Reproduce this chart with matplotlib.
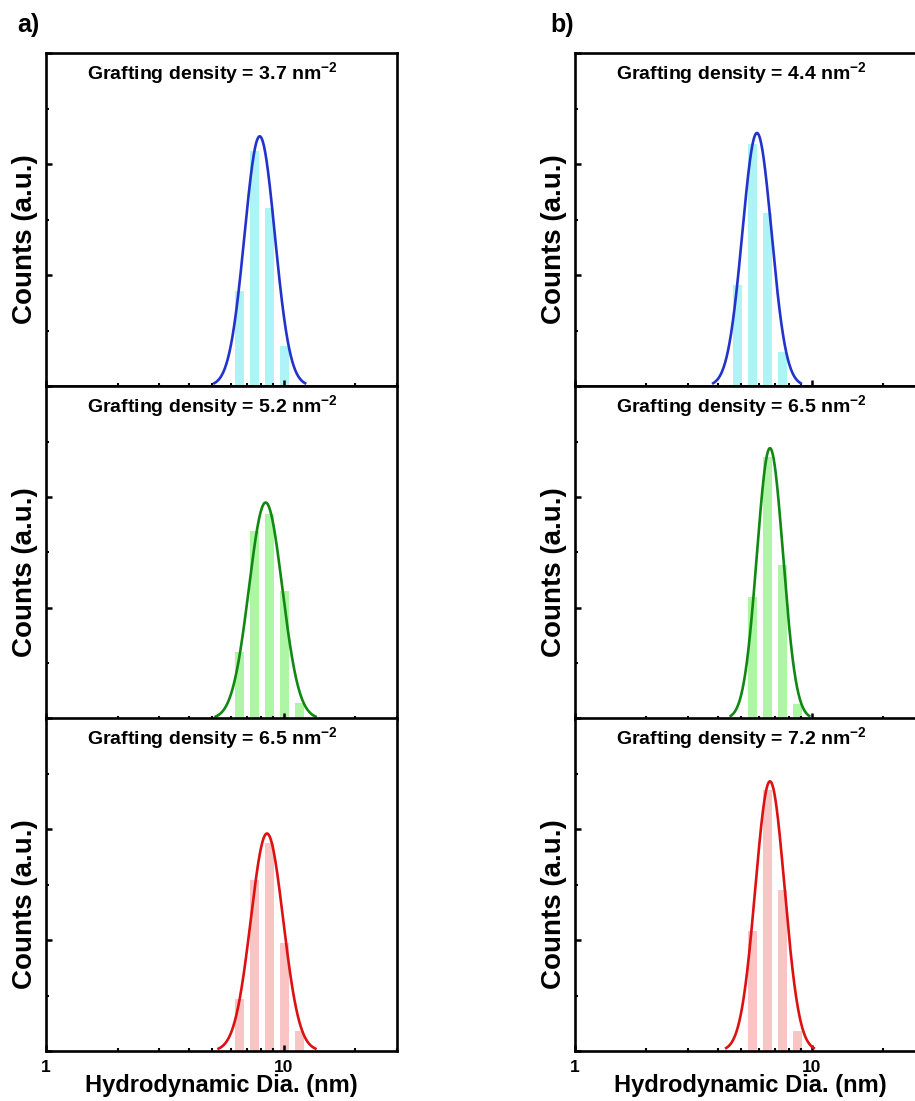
import numpy as np
import matplotlib
matplotlib.use("Agg")
import matplotlib.pyplot as plt
from matplotlib.ticker import LogLocator, MultipleLocator, NullFormatter, FixedLocator, FixedFormatter

plt.rcParams['font.family'] = ['Liberation Sans', 'DejaVu Sans']
plt.rcParams['font.weight'] = 'bold'
plt.rcParams['mathtext.fontset'] = 'custom'
plt.rcParams['mathtext.rm'] = 'Liberation Sans:bold'
plt.rcParams['mathtext.it'] = 'Liberation Sans:bold'
plt.rcParams['mathtext.bf'] = 'Liberation Sans:bold'

# DLS size bins (nm)
bin_sizes = [4.849, 5.615, 6.503, 7.531, 8.721, 10.10, 11.70]

# column a
density_a = ["3.7", "5.2", "6.5"]
counts_a1 = [0, 0, 0.86, 2.12, 1.60, 0.36, 0]
counts_a2 = [0, 0, 0.60, 1.69, 1.85, 1.15, 0.14]
counts_a3 = [0, 0, 0.47, 1.54, 1.87, 0.97, 0.18]
fit_center_a = [7.93, 8.40, 8.51]
fit_height_a = [2.25, 1.95, 1.96]
fit_fwhm_a = [0.150, 0.165, 0.160]   # decades

# column b
density_b = ["4.4", "6.5", "7.2"]
counts_b1 = [0.91, 2.18, 1.56, 0.31, 0, 0, 0]
counts_b2 = [0, 1.10, 2.36, 1.39, 0.135, 0, 0]
counts_b3 = [0, 1.08, 2.35, 1.45, 0.18, 0, 0]
fit_center_b = [5.86, 6.65, 6.65]
fit_height_b = [2.28, 2.44, 2.43]
fit_fwhm_b = [0.145, 0.130, 0.145]

line_colors = ["#2233cc", "#118811", "#dd1111"]
bar_colors = ["#aef4f7", "#aef5a6", "#f9c4c4"]

fig = plt.figure(figsize=(9.15, 11.01), dpi=100)

row_bottoms = [0.6494, 0.3470, 0.0454]
row_h = 0.3024
col_lefts = [46 / 915, 575 / 915]
col_w = [351 / 915, 350 / 915]

columns = [
    (density_a, [counts_a1, counts_a2, counts_a3], fit_center_a, fit_height_a, fit_fwhm_a),
    (density_b, [counts_b1, counts_b2, counts_b3], fit_center_b, fit_height_b, fit_fwhm_b),
]

bw = 0.039  # bar width in decades
for c, (dens, counts, centers, heights, fwhms) in enumerate(columns):
    for r in range(3):
        ax = fig.add_axes([col_lefts[c], row_bottoms[r], col_w[c], row_h])
        ax.set_xscale('log')
        ax.set_xlim(1, 30)
        ax.set_ylim(0, 3)

        xs = np.array(bin_sizes)
        lefts = xs * 10 ** (-bw / 2)
        widths = xs * 10 ** (bw / 2) - lefts
        ax.bar(lefts, counts[r], width=widths, align='edge', color=bar_colors[r], zorder=1)

        # Gaussian fit in log space
        sig = fwhms[r] / 2.3548
        lc = np.log10(centers[r])
        lx = np.linspace(lc - 3 * sig, lc + 3 * sig, 300)
        ax.plot(10 ** lx, heights[r] * np.exp(-0.5 * ((lx - lc) / sig) ** 2),
                color=line_colors[r], lw=1.9, zorder=2)

        ax.text(41 / 351, 0.94, "Grafting density = %s nm$^{-2}$" % dens[r],
                transform=ax.transAxes, ha='left', va='center', fontsize=14, fontweight='bold')

        for s in ax.spines.values():
            s.set_linewidth(1.9)
        ax.spines['right'].set_visible(c == 0)

        ax.xaxis.set_major_locator(FixedLocator([1, 10]))
        ax.xaxis.set_minor_locator(LogLocator(base=10, subs=np.arange(2, 10)))
        ax.xaxis.set_minor_formatter(NullFormatter())
        ax.yaxis.set_major_locator(MultipleLocator(1))
        ax.yaxis.set_minor_locator(MultipleLocator(0.5))
        ax.set_yticklabels([])
        ax.tick_params(axis='both', which='major', direction='in', length=4, width=1.8,
                       top=False, right=False)
        ax.tick_params(axis='both', which='minor', direction='in', length=2.5, width=1.5,
                       top=False, right=False)
        if r == 2:
            ax.xaxis.set_major_formatter(FixedFormatter(["1", "10"]))
            ax.tick_params(axis='x', which='major', labelsize=12.5, pad=6.5)
            for t in ax.get_xticklabels():
                t.set_fontweight('bold')
            ax.text(0.5, -0.105, "Hydrodynamic Dia. (nm)", transform=ax.transAxes,
                    ha='center', va='center', fontsize=17, fontweight='bold')
        else:
            ax.set_xticklabels([])
        ax.text(-21 / 351, 0.44, "Counts (a.u.)", transform=ax.transAxes, rotation=90,
                ha='center', va='center', fontsize=20, fontweight='bold')

fig.text(17 / 915, 1 - 25 / 1101, "a)", fontsize=18, fontweight='bold', va='center')
fig.text(550 / 915, 1 - 25 / 1101, "b)", fontsize=18, fontweight='bold', va='center')

fig.savefig("out.png", dpi=100)
